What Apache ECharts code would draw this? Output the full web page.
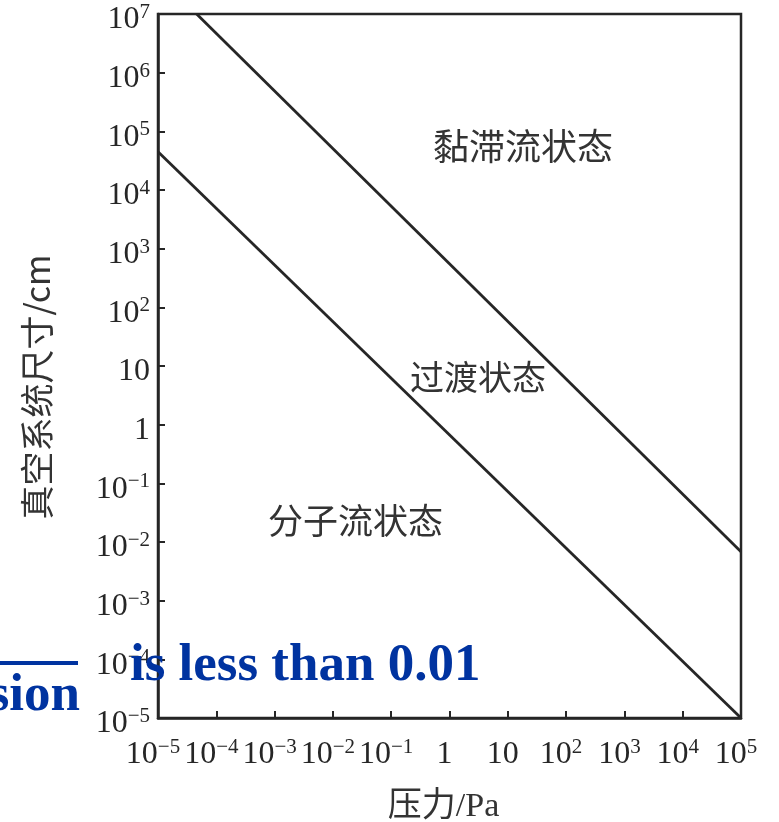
<!DOCTYPE html>
<html>
<head>
<meta charset="utf-8">
<script src="https://cdn.jsdelivr.net/npm/echarts@6/dist/echarts.min.js"></script>
<style>html,body{margin:0;padding:0;background:#fff}#c{width:779px;height:822px}</style>
</head>
<body>
<div id="c"></div>
<script>
// tick labels (base, superscript)
const xTickLabels = [['10','−5'],['10','−4'],['10','−3'],['10','−2'],['10','−1'],['1',''],['10',''],['10','2'],['10','3'],['10','4'],['10','5']];
const yTickLabels = [['10','−5'],['10','−4'],['10','−3'],['10','−2'],['10','−1'],['1',''],['10',''],['10','2'],['10','3'],['10','4'],['10','5'],['10','6'],['10','7']];
const xMinExp = -5, xMaxExp = 5, yMinExp = -5, yMaxExp = 7;
// boundary lines [pressure Pa, size cm]
const viscousBoundary = [[4.6e-5, 1e7], [1e5, 6.8e-3]];
const molecularBoundary = [[1e-5, 4.5e4], [1e5, 1e-5]];
const regionLabels = ['黏滞流状态', '过渡状态', '分子流状态'];
const xName = '压力/Pa';
const yName = '真空系统尺寸/cm';
const overlayText1 = 'is less than 0.01';
const overlayText2 = 'sion';

const INK = '#262626';
function fmt(labels, minExp) {
  return function (v) {
    const i = Math.round(Math.log10(v)) - minExp;
    const l = labels[i];
    if (!l) return '';
    return l[1] ? '{b|' + l[0] + '}{s|' + l[1] + '}' : '{b|' + l[0] + '}';
  };
}
const rich = {
  b: { fontFamily: 'Liberation Serif', fontSize: 32, color: INK, lineHeight: 36 },
  s: { fontFamily: 'Liberation Serif', fontSize: 21, color: INK, verticalAlign: 'top', lineHeight: 14 }
};

const chart = echarts.init(document.getElementById('c'));
chart.setOption({
  animation: false,
  backgroundColor: '#fff',
  grid: { left: 158, right: 38, top: 14, bottom: 104, show: true, borderColor: INK, borderWidth: 2.5, backgroundColor: 'transparent', outerBoundsMode: 'none' },
  xAxis: {
    type: 'log', logBase: 10, min: Math.pow(10, xMinExp), max: Math.pow(10, xMaxExp), interval: 1,
    name: xName, nameLocation: 'middle', nameGap: 72,
    nameTextStyle: { fontFamily: 'Liberation Serif, Noto Sans CJK SC', fontSize: 34, color: '#333', padding: [0, 12, 0, 0] },
    axisLine: { lineStyle: { color: INK, width: 2.5 } },
    axisTick: { inside: true, length: 7, lineStyle: { color: INK, width: 2 } },
    axisLabel: { formatter: fmt(xTickLabels, xMinExp), rich: rich, margin: 19, padding: [0, 10, 0, 0] },
    splitLine: { show: false }, minorTick: { show: false }
  },
  yAxis: {
    type: 'log', logBase: 10, min: Math.pow(10, yMinExp), max: Math.pow(10, yMaxExp), interval: 1,
    name: yName, nameLocation: 'middle', nameGap: 104, nameRotate: 90,
    nameTextStyle: { fontFamily: 'Noto Sans CJK SC', fontSize: 34, color: '#333', padding: [0, 42, 0, 0] },
    axisLine: { lineStyle: { color: INK, width: 2.5 } },
    axisTick: { inside: true, length: 7, lineStyle: { color: INK, width: 2 } },
    axisLabel: { formatter: fmt(yTickLabels, yMinExp), rich: rich, margin: 8, padding: [12, 0, 0, 0] },
    splitLine: { show: false }, minorTick: { show: false }
  },
  series: [
    { type: 'line', data: viscousBoundary, showSymbol: false, symbol: 'none', lineStyle: { color: INK, width: 2.8 } },
    { type: 'line', data: molecularBoundary, showSymbol: false, symbol: 'none', lineStyle: { color: INK, width: 2.8 } }
  ],
  graphic: [
    { type: 'text', left: 433, top: 128, style: { text: regionLabels[0], font: '36px "Noto Sans CJK SC"', fill: '#333' }, z: 50 },
    { type: 'text', left: 410, top: 360, style: { text: regionLabels[1], font: '34px "Noto Sans CJK SC"', fill: '#333' }, z: 50 },
    { type: 'text', left: 268, top: 503, style: { text: regionLabels[2], font: '35px "Noto Sans CJK SC"', fill: '#333' }, z: 50 },
    { type: 'rect', shape: { x: 0, y: 661, width: 78, height: 4 }, style: { fill: '#0033a0' }, z: 100 },
    { type: 'text', x: 130, y: 666, style: { text: overlayText1, font: 'bold 53px "Liberation Serif"', fill: '#0033a0', verticalAlign: 'middle' }, z: 100 },
    { type: 'text', x: 80, y: 696, style: { text: overlayText2, font: 'bold 53px "Liberation Serif"', fill: '#0033a0', align: 'right', verticalAlign: 'middle' }, z: 100 }
  ]
});
</script>
</body>
</html>
